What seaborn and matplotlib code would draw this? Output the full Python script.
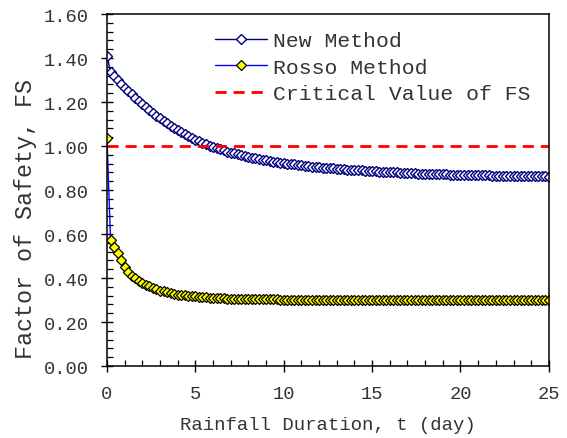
import matplotlib
matplotlib.use("Agg")
import matplotlib.pyplot as plt
from matplotlib.ticker import MultipleLocator, FormatStrFormatter
import seaborn as sns
import pandas as pd

# Rainfall duration (days), sampled every 0.2 day
days = [
    0.0, 0.2, 0.4, 0.6, 0.8, 1.0, 1.2, 1.4, 1.6, 1.8,
    2.0, 2.2, 2.4, 2.6, 2.8, 3.0, 3.2, 3.4, 3.6, 3.8,
    4.0, 4.2, 4.4, 4.6, 4.8, 5.0, 5.2, 5.4, 5.6, 5.8,
    6.0, 6.2, 6.4, 6.6, 6.8, 7.0, 7.2, 7.4, 7.6, 7.8,
    8.0, 8.2, 8.4, 8.6, 8.8, 9.0, 9.2, 9.4, 9.6, 9.8,
    10.0, 10.2, 10.4, 10.6, 10.8, 11.0, 11.2, 11.4, 11.6, 11.8,
    12.0, 12.2, 12.4, 12.6, 12.8, 13.0, 13.2, 13.4, 13.6, 13.8,
    14.0, 14.2, 14.4, 14.6, 14.8, 15.0, 15.2, 15.4, 15.6, 15.8,
    16.0, 16.2, 16.4, 16.6, 16.8, 17.0, 17.2, 17.4, 17.6, 17.8,
    18.0, 18.2, 18.4, 18.6, 18.8, 19.0, 19.2, 19.4, 19.6, 19.8,
    20.0, 20.2, 20.4, 20.6, 20.8, 21.0, 21.2, 21.4, 21.6, 21.8,
    22.0, 22.2, 22.4, 22.6, 22.8, 23.0, 23.2, 23.4, 23.6, 23.8,
    24.0, 24.2, 24.4, 24.6, 24.8, 25.0,
]

# Factor of safety, new method
fs_new = [
    1.410, 1.335, 1.318, 1.300, 1.282, 1.265, 1.250, 1.235, 1.220, 1.205,
    1.191, 1.177, 1.164, 1.151, 1.138, 1.126, 1.114, 1.103, 1.092, 1.082,
    1.072, 1.063, 1.054, 1.045, 1.037, 1.029, 1.022, 1.015, 1.008, 1.002,
    0.996, 0.990, 0.985, 0.980, 0.975, 0.970, 0.966, 0.962, 0.958, 0.954,
    0.950, 0.947, 0.944, 0.941, 0.938, 0.935, 0.932, 0.929, 0.927, 0.924,
    0.922, 0.920, 0.918, 0.916, 0.914, 0.912, 0.910, 0.908, 0.906, 0.905,
    0.903, 0.902, 0.900, 0.899, 0.898, 0.896, 0.895, 0.894, 0.893, 0.892,
    0.891, 0.890, 0.889, 0.888, 0.887, 0.886, 0.885, 0.884, 0.883, 0.882,
    0.881, 0.880, 0.880, 0.879, 0.878, 0.877, 0.877, 0.876, 0.875, 0.875,
    0.874, 0.873, 0.873, 0.872, 0.872, 0.871, 0.871, 0.870, 0.870, 0.869,
    0.869, 0.868, 0.868, 0.867, 0.867, 0.867, 0.866, 0.866, 0.866, 0.865,
    0.865, 0.865, 0.864, 0.864, 0.864, 0.864, 0.863, 0.863, 0.863, 0.863,
    0.862, 0.862, 0.862, 0.862, 0.862, 0.861,
]

# Factor of safety, Rosso method
fs_rosso = [
    1.035, 0.575, 0.540, 0.512, 0.480, 0.452, 0.428, 0.410, 0.398, 0.387,
    0.376, 0.369, 0.362, 0.355, 0.349, 0.343, 0.339, 0.335, 0.331, 0.328,
    0.325, 0.323, 0.321, 0.319, 0.317, 0.316, 0.315, 0.313, 0.312, 0.311,
    0.310, 0.309, 0.308, 0.307, 0.306, 0.306, 0.305, 0.305, 0.304, 0.304,
    0.304, 0.303, 0.303, 0.303, 0.303, 0.303, 0.303, 0.303, 0.303, 0.302,
    0.302, 0.302, 0.302, 0.302, 0.302, 0.302, 0.302, 0.302, 0.302, 0.302,
    0.302, 0.302, 0.302, 0.301, 0.301, 0.301, 0.301, 0.301, 0.301, 0.301,
    0.301, 0.301, 0.301, 0.301, 0.301, 0.301, 0.301, 0.301, 0.301, 0.301,
    0.301, 0.301, 0.301, 0.301, 0.301, 0.301, 0.301, 0.301, 0.301, 0.301,
    0.301, 0.301, 0.301, 0.301, 0.301, 0.301, 0.301, 0.301, 0.301, 0.301,
    0.301, 0.301, 0.301, 0.301, 0.301, 0.301, 0.301, 0.301, 0.301, 0.301,
    0.301, 0.301, 0.301, 0.301, 0.301, 0.301, 0.301, 0.301, 0.301, 0.301,
    0.301, 0.301, 0.301, 0.301, 0.301, 0.301,
]

critical_fs = 1.0
x_range = [0, 25]

series_labels = ["New Method", "Rosso Method", "Critical Value of FS"]

sns.set_style("ticks")
plt.rcParams["font.family"] = ["Liberation Mono", "DejaVu Sans Mono"]

df_new = pd.DataFrame({"t": days, "FS": fs_new})
df_rosso = pd.DataFrame({"t": days, "FS": fs_rosso})

fig = plt.figure(figsize=(5.67, 4.39), dpi=100)
ax = fig.add_axes([0.1887, 0.164, 0.7793, 0.8018])

sns.lineplot(data=df_new, x="t", y="FS", ax=ax, color="#000080", lw=1.0,
             marker="D", markersize=5.5, markerfacecolor="white",
             markeredgecolor="#000080", markeredgewidth=1.0,
             label=series_labels[0], sort=False, estimator=None)
sns.lineplot(data=df_rosso, x="t", y="FS", ax=ax, color="#0000FF", lw=1.0,
             marker="D", markersize=5.5, markerfacecolor="#FFFF00",
             markeredgecolor="black", markeredgewidth=0.9,
             label=series_labels[1], sort=False, estimator=None)
ax.plot(x_range, [critical_fs, critical_fs], color="red", lw=2.0,
        linestyle=(0, (4, 2.5)), label=series_labels[2])

ax.set_xlim(0, 25)
ax.set_ylim(0, 1.6)
ax.xaxis.set_major_locator(MultipleLocator(5))
ax.xaxis.set_minor_locator(MultipleLocator(1))
ax.yaxis.set_major_locator(MultipleLocator(0.2))
ax.yaxis.set_minor_locator(MultipleLocator(0.04))
ax.yaxis.set_major_formatter(FormatStrFormatter("%.2f"))

ax.tick_params(which="major", direction="inout", length=8, width=1.0,
               labelsize=13.5, colors="black", labelcolor="#333333", pad=9)
ax.tick_params(which="minor", direction="in", length=4, width=0.9, colors="black")
ax.tick_params(axis="x", which="major", pad=10)

for sp in ax.spines.values():
    sp.set_visible(True)
    sp.set_color("black")
    sp.set_linewidth(1.1)

ax.set_xlabel("Rainfall Duration, t (day)", fontsize=13.7, color="#333333", labelpad=10)
ax.set_ylabel("Factor of Safety, FS", fontsize=16.8, color="#333333")
ax.yaxis.set_label_coords(-0.158, 0.42)

leg = ax.legend(loc="upper left", bbox_to_anchor=(0.379, 0.927, 0.6, 0.0),
                bbox_transform=fig.transFigure, frameon=False, fontsize=15.4,
                handlelength=2.45, handletextpad=0.25, labelspacing=0.36,
                numpoints=1, borderaxespad=0.0, borderpad=0.0)
for txt in leg.get_texts():
    txt.set_color("#333333")

fig.savefig("out.png", dpi=100)
